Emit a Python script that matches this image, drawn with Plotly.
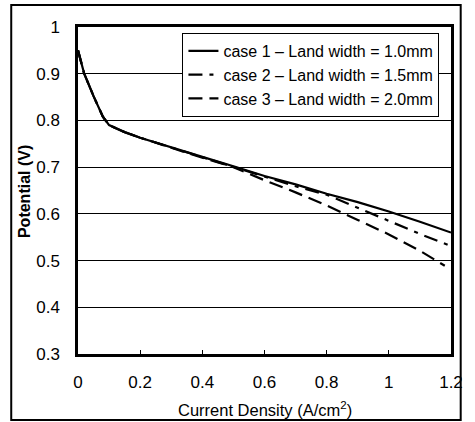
import plotly.graph_objects as go

# Data
x_case1 = [0, 0.02, 0.05, 0.08, 0.1, 0.15, 0.2, 0.3, 0.4, 0.5, 0.6, 0.7, 0.8, 0.9, 1.0, 1.1, 1.2]
y_case1 = [0.95, 0.90, 0.852, 0.808, 0.79, 0.775, 0.763, 0.742, 0.722, 0.702, 0.681, 0.663, 0.643, 0.625, 0.605, 0.583, 0.56]

x_case2 = [0, 0.02, 0.05, 0.08, 0.1, 0.15, 0.2, 0.3, 0.4, 0.5, 0.6, 0.7, 0.8, 0.9, 1.0, 1.1, 1.2]
y_case2 = [0.95, 0.90, 0.852, 0.808, 0.79, 0.775, 0.763, 0.742, 0.721, 0.701, 0.679, 0.659, 0.641, 0.613, 0.584, 0.557, 0.531]

x_case3 = [0, 0.02, 0.05, 0.08, 0.1, 0.15, 0.2, 0.3, 0.4, 0.5, 0.6, 0.7, 0.8, 0.9, 1.0, 1.1, 1.18]
y_case3 = [0.95, 0.90, 0.852, 0.808, 0.79, 0.775, 0.763, 0.741, 0.720, 0.700, 0.672, 0.646, 0.618, 0.587, 0.556, 0.521, 0.489]

names = ["case 1 \u2013 Land width = 1.0mm",
         "case 2 \u2013 Land width = 1.5mm",
         "case 3 \u2013 Land width = 2.0mm"]

x_ticks = [0, 0.2, 0.4, 0.6, 0.8, 1, 1.2]
x_tick_labels = ["0", "0.2", "0.4", "0.6", "0.8", "1", "1.2"]
y_ticks = [0.3, 0.4, 0.5, 0.6, 0.7, 0.8, 0.9, 1]
y_tick_labels = ["0.3", "0.4", "0.5", "0.6", "0.7", "0.8", "0.9", "1"]

FONT = "Liberation Sans, Arial, sans-serif"

fig = go.Figure()
fig.add_trace(go.Scatter(x=x_case1, y=y_case1, mode="lines", name=names[0],
                         line=dict(color="black", width=2.2, dash="solid")))
fig.add_trace(go.Scatter(x=x_case2, y=y_case2, mode="lines", name=names[1],
                         line=dict(color="black", width=2.2, dash="14px,7px,4px,7px")))
fig.add_trace(go.Scatter(x=x_case3, y=y_case3, mode="lines", name=names[2],
                         line=dict(color="black", width=2.2, dash="14px,7px")))

fig.update_layout(
    width=475, height=422,
    margin=dict(l=78, r=12, t=27, b=68),
    paper_bgcolor="white", plot_bgcolor="white",
    font=dict(family=FONT, size=17, color="black"),
    showlegend=True,
    legend=dict(x=0.28, y=0.982, xanchor="left", yanchor="top",
                bgcolor="white", bordercolor="black", borderwidth=1,
                font=dict(size=16), tracegroupgap=0, itemwidth=30),
    xaxis=dict(range=[0, 1.2], tickvals=x_ticks, ticktext=x_tick_labels,
               showgrid=False, zeroline=False, showline=True, mirror=True,
               linecolor="black", linewidth=2.5, ticks="inside", ticklen=4,
               tickcolor="black", ticklabelstandoff=11, fixedrange=True),
    yaxis=dict(range=[0.3, 1.0], tickvals=y_ticks, ticktext=y_tick_labels,
               showgrid=True, gridcolor="black", gridwidth=1, zeroline=False,
               showline=True, mirror=True, linecolor="black", linewidth=2.5,
               ticks="", ticklabelstandoff=12, fixedrange=True),
    annotations=[
        dict(text="Current Density (A/cm<sup>2</sup>)", xref="paper", yref="paper",
             x=0.5, y=-0.168, xanchor="center", yanchor="middle", showarrow=False,
             font=dict(size=16.5)),
        dict(text="<b>Potential (V)</b>", xref="paper", yref="paper",
             x=-0.145, y=0.498, xanchor="center", yanchor="middle", showarrow=False,
             textangle=-90, font=dict(size=16)),
    ],
    shapes=[
        dict(type="rect", xref="paper", yref="paper", x0=-0.179, x1=1.026,
             y0=-0.202, y1=1.067, line=dict(color="black", width=2), layer="below"),
    ],
)

fig.write_html("out.html")
